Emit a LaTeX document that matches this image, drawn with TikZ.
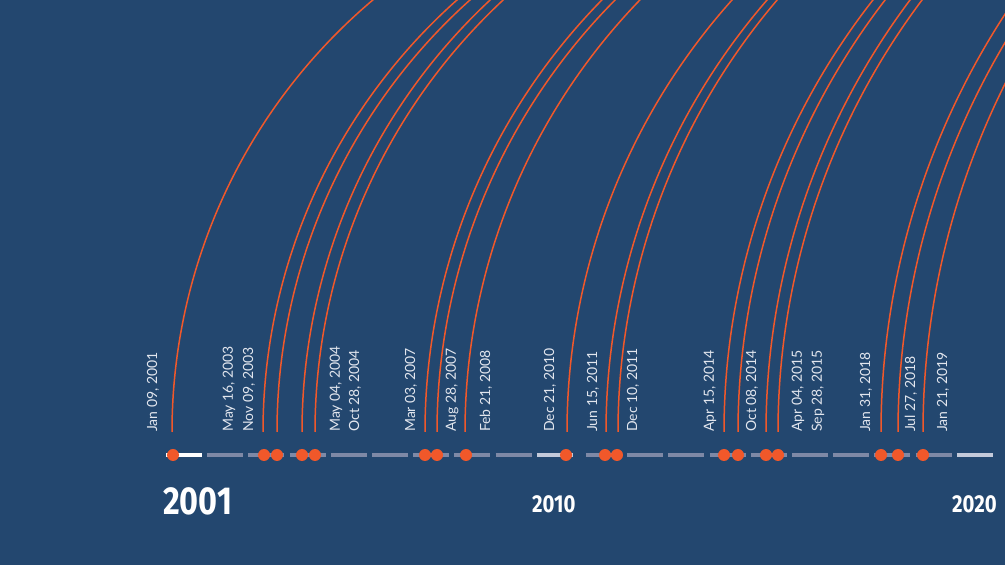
\documentclass[tikz,border=0pt]{standalone}
\usepackage{fontspec}
\setmainfont{Lato}
\newfontfamily\yearfont{Fira Sans}
\usetikzlibrary{calc}

\definecolor{bgblue}{RGB}{35,71,111}
\definecolor{flame}{RGB}{241,88,42}
\definecolor{dashgray}{RGB}{126,137,166}
\definecolor{dashlight}{RGB}{196,202,218}
\definecolor{labelwhite}{RGB}{226,230,238}

\begin{document}
\begin{tikzpicture}[x=1pt, y=1pt,
declare function={ yearx(\n) = (\n<2011) ? 166+41.2*(\n-2001) : 586+41.2*(\n-2011);
				 },
datelbl/.style={rotate=90, anchor=west, inner sep=0pt, text=labelwhite, font=\fontsize{14}{15}\selectfont},
yearlbl/.style={anchor=base west, inner sep=0pt, text=white, xscale=0.83},
yeardash/.style={line width=4pt},
]

	\fill[bgblue] (0,0) rectangle (1005,565); % background
	\useasboundingbox (0,0) rectangle (1005,565);

	\foreach \n in {2002,2003,2004,2005,2006,2007,2008,2009,2011,2012,2013,2014,2015,2016,2017,2018,2019}
		\draw[yeardash, dashgray] ({yearx(\n)},110) -- ({yearx(\n)+36},110); % grey years
	\draw[yeardash, white] ({yearx(2001)},110) -- ({yearx(2001)+36},110);
	\draw[yeardash, dashlight] ({yearx(2010)},110) -- ({yearx(2010)+36},110);
	\draw[yeardash, dashlight] ({yearx(2020)},110) -- ({yearx(2020)+36},110);

	\begin{scope}
		\clip (0,0) rectangle (1005,565);
		\foreach \x/\r in {172/565,263/578,277/580,302/590,315/590,425/616,437/613,465/621,567/648,
		                   606/660,618/666,724/701,738/708,766/720,778/720,881/766,898/762,923/780}
			\draw[flame, line width=1.5pt] (\x,133) arc[start angle=180, end angle=110, radius=\r]; % date arcs
	\end{scope}

	\foreach \x in {173,264,277,302,315,425,437,466,566,605,617,724,738,766,778,881,898,923}
		\fill[flame] (\x,110) circle (6pt); % date dots

	\foreach \lx/\txt [count=\i] in {153/{Jan 09, 2001},229/{May 16, 2003},249/{Nov 09, 2003},336/{May 04, 2004},
	                   355/{Oct 28, 2004},411/{Mar 03, 2007},452/{Aug 28, 2007},486/{Feb 21, 2008},
	                   550/{Dec 21, 2010},593/{Jun 15, 2011},633/{Dec 10, 2011},710/{Apr 15, 2014},
	                   752/{Oct 08, 2014},798/{Apr 04, 2015},818/{Sep 28, 2015},866/{Jan 31, 2018},
	                   911/{Jul 27, 2018},943/{Jan 21, 2019}}
		\node[datelbl] (date-\i) at (\lx,133) {\txt};

	\node[yearlbl, font=\yearfont\bfseries\fontsize{39}{40}\selectfont] (y2001) at (163,50) {2001};
	\node[yearlbl, font=\yearfont\bfseries\fontsize{24.5}{25}\selectfont] (y2010) at (532,52) {2010};
	\node[yearlbl, font=\yearfont\bfseries\fontsize{24.5}{25}\selectfont] (y2020) at (952,52) {2020};

\end{tikzpicture}
\end{document}
